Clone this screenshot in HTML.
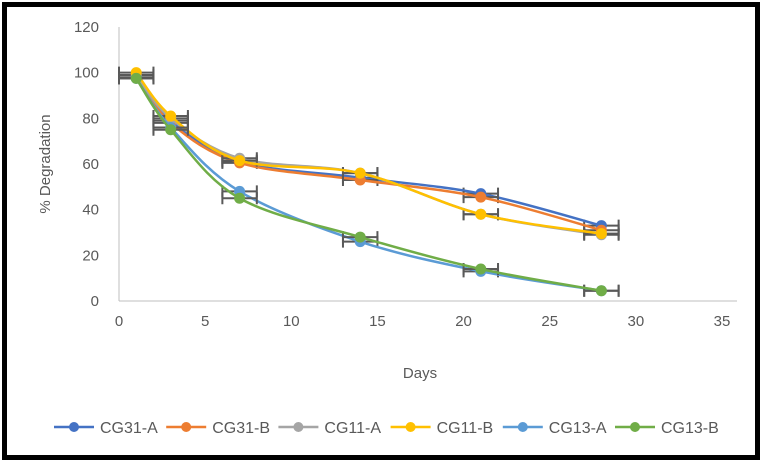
<!DOCTYPE html>
<html><head><meta charset="utf-8"><style>
html,body{margin:0;padding:0;background:#fff}
svg{display:block;font-family:"Liberation Sans",sans-serif}
</style></head><body>
<svg id="chart" width="763" height="463" viewBox="0 0 763 463">
<rect x="4.5" y="4.5" width="753" height="453" fill="#fff" stroke="#000" stroke-width="5"/>
<g id="axes"></g>
<g id="plot"></g>
<g id="legend"></g>
<text x="420" y="378" text-anchor="middle" font-size="15" fill="#595959">Days</text>
<text transform="translate(50,164) rotate(-90)" text-anchor="middle" font-size="15" fill="#595959">% Degradation</text>
</svg>
<script>
const days = [1, 3, 7, 14, 21, 28];
const seriesNames = ["CG31-A","CG31-B","CG11-A","CG11-B","CG13-A","CG13-B"];
const cg31a = [98, 79, 61, 54, 47, 33];
const cg31b = [99, 78, 60.5, 53, 45.5, 31];
const cg11a = [99, 80, 62.5, 56, 38, 29];
const cg11b = [100, 81, 61.5, 56, 38, 29.5];
const cg13a = [97.5, 76, 48, 26, 13, 4.5];
const cg13b = [97.5, 75, 45, 28, 14, 4.5];
const xTicks = [0,5,10,15,20,25,30,35];
const yTicks = [0,20,40,60,80,100,120];
const errDays = 1;

const colors = ["#4472C4","#ED7D31","#A5A5A5","#FFC000","#5B9BD5","#70AD47"];
const allSeries = [cg31a,cg31b,cg11a,cg11b,cg13a,cg13b];
const X0=119, XS=603/35, Y0=301, YS=274/120;
const sx = v => X0 + v*XS;
const sy = v => Y0 - v*YS;
const NS="http://www.w3.org/2000/svg";
function mk(tag, attrs, parent){const e=document.createElementNS(NS,tag);for(const k in attrs)e.setAttribute(k,attrs[k]);parent.appendChild(e);return e;}
const axes=document.getElementById('axes'), plot=document.getElementById('plot'), legend=document.getElementById('legend');

const ya=mk('line',{x1:X0,y1:sy(120),x2:X0,y2:Y0,stroke:'#BFBFBF','stroke-width':1},axes);


const xa=mk('line',{x1:X0,y1:Y0,x2:sx(35)+15,y2:Y0,stroke:'#BFBFBF','stroke-width':1},axes);


yTicks.forEach(t=>{
  const e=mk('text',{x:99,y:sy(t)+5,'text-anchor':'end','font-size':15,fill:'#595959'},axes);
  e.textContent=t;
  
  
});
xTicks.forEach(t=>{
  const e=mk('text',{x:sx(t),y:Y0+25,'text-anchor':'middle','font-size':15,fill:'#595959'},axes);
  e.textContent=t;
  
  
});

function smooth(pts){
  let d=`M${pts[0][0]},${pts[0][1]}`;
  for(let i=0;i<pts.length-1;i++){
    const p0=pts[i-1]||pts[i],p1=pts[i],p2=pts[i+1],p3=pts[i+2]||p2;
    const t=1/6;
    const c1=[p1[0]+(p2[0]-p0[0])*t,p1[1]+(p2[1]-p0[1])*t];
    const c2=[p2[0]-(p3[0]-p1[0])*t,p2[1]-(p3[1]-p1[1])*t];
    d+=` C${c1[0]},${c1[1]} ${c2[0]},${c2[1]} ${p2[0]},${p2[1]}`;
  }
  return d;
}

allSeries.forEach((vals,si)=>{
  const g=mk('g',{},plot);
  
  
  vals.forEach((v,i)=>{
    const y=sy(v), xa=sx(days[i]-errDays), xb=sx(days[i]+errDays);
    const eb=mk('path',{d:`M${xa},${y}H${xb}M${xa},${y-6}V${y+6}M${xb},${y-6}V${y+6}`,stroke:'#595959','stroke-width':2,fill:'none'},g);
    
    
  });
  const pts=vals.map((v,i)=>[sx(days[i]),sy(v)]);
  const ln=mk('path',{d:smooth(pts),stroke:colors[si],'stroke-width':2.5,fill:'none','stroke-linecap':'round'},g);
  
  
  pts.forEach(p=>{
    const c=mk('circle',{cx:p[0],cy:p[1],r:5.5,fill:colors[si]},g);
    
    
  });
});

seriesNames.forEach((n,i)=>{
  const x0=54+i*112.2, y=427;
  const g=mk('g',{},legend);
  
  
  mk('line',{x1:x0,y1:y,x2:x0+40,y2:y,stroke:colors[i],'stroke-width':2.5},g);
  mk('circle',{cx:x0+20,cy:y,r:5,fill:colors[i]},g);
  const t=mk('text',{x:x0+46,y:y+6,'font-size':16,fill:'#595959'},g);
  t.textContent=n;
});
</script>
</body></html>
